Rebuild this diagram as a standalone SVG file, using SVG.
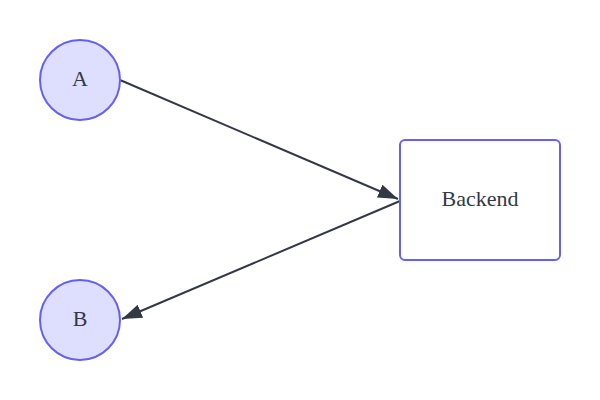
<svg xmlns="http://www.w3.org/2000/svg" width="600" height="400" viewBox="0 0 600 400">
<style>
.node{fill:#dedeff;stroke:#6660f0;stroke-width:2}
.box{fill:#ffffff;stroke:#6660f0;stroke-width:2}
.lbl{font-family:'Liberation Serif','Times New Roman',Times,serif;font-size:22px;fill:#333844;text-anchor:middle;dominant-baseline:central}
.edge{stroke:#333844;stroke-width:2;fill:none}
</style>
<defs>
<marker id="arrb" viewBox="0 0 20 14" refX="20" refY="7" markerWidth="20" markerHeight="14" markerUnits="userSpaceOnUse" orient="auto">
<path d="M0,0 L20,7 L0,14 z" fill="#333844"/>
</marker>
</defs>
<rect width="600" height="400" fill="#ffffff"/>
<g id="edges">
<line class="edge" x1="120" y1="80" x2="398" y2="199" marker-end="url(#arrb)"/>
<line class="edge" x1="400" y1="201" x2="122" y2="319" marker-end="url(#arrb)"/>
</g>
<g id="A">
<circle class="node" cx="80" cy="80" r="40"/>
<text class="lbl" x="80" y="78">A</text>
</g>
<g id="B">
<circle class="node" cx="80" cy="320" r="40"/>
<text class="lbl" x="80" y="318">B</text>
</g>
<g id="Backend">
<rect class="box" x="400" y="140" width="160" height="120" rx="5"/>
<text class="lbl" x="480" y="198">Backend</text>
</g>
</svg>
